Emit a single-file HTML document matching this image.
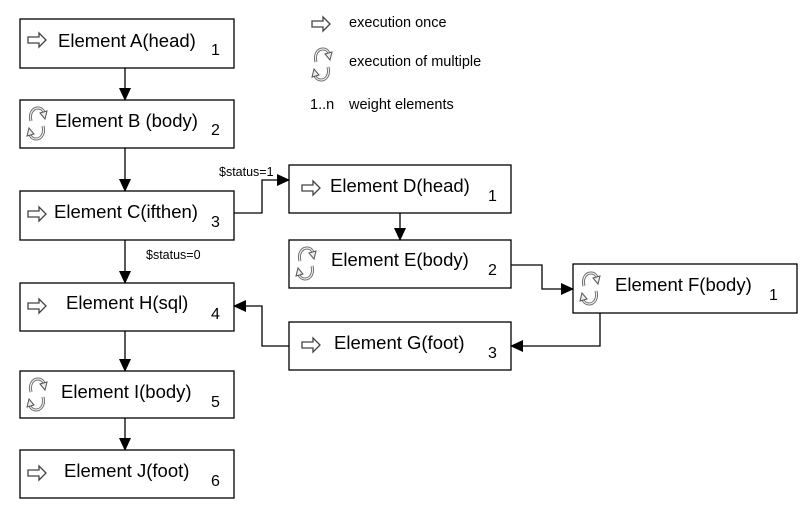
<!DOCTYPE html>
<html><head><meta charset="utf-8"><style>body{margin:0;background:#fff}svg{display:block}text{font-family:"Liberation Sans",sans-serif;fill:#000}</style></head><body>
<svg width="809" height="516" viewBox="0 0 809 516" xmlns="http://www.w3.org/2000/svg">
<defs>
<marker id="ah" markerWidth="13" markerHeight="12" refX="12" refY="6" orient="auto" markerUnits="userSpaceOnUse"><path d="M0,0 L13,6 L0,12 z" fill="#000"/></marker>
<g id="once"><path d="M0,4 h11 v-4 l7,7 l-7,7 v-4 h-11 z" fill="#fff" stroke="#444" stroke-width="1.3"/></g>
<g id="multi">
<path d="M3,14 C1,6 5,1 10,1 C13,1 15,3 16,5" fill="none" stroke="#666" stroke-width="3"/>
<path d="M3,14 C1,6 5,1 10,1 C13,1 15,3 16,5" fill="none" stroke="#eee" stroke-width="1.2"/>
<path d="M12,6 L19,4 L17,12 z" fill="#eee" stroke="#555" stroke-width="1"/>
<path d="M15,19 C17,27 13,32 8,32 C5,32 3,30 2,28" fill="none" stroke="#666" stroke-width="3"/>
<path d="M15,19 C17,27 13,32 8,32 C5,32 3,30 2,28" fill="none" stroke="#eee" stroke-width="1.2"/>
<path d="M6,27 L-1,29 L1,21 z" fill="#eee" stroke="#555" stroke-width="1"/>
</g>
</defs>
<g fill="#fff" stroke="#000" stroke-width="1.3">
<rect x="20" y="19" width="214" height="49"/>
<rect x="20" y="100" width="214" height="48"/>
<rect x="20" y="191" width="214" height="49"/>
<rect x="20" y="283" width="214" height="48"/>
<rect x="20" y="371" width="214" height="47"/>
<rect x="20" y="450" width="214" height="48"/>
<rect x="289" y="165" width="222" height="48"/>
<rect x="289" y="240" width="222" height="48"/>
<rect x="289" y="322" width="222" height="48"/>
<rect x="573" y="264" width="224" height="49"/>
</g>
<g fill="none" stroke="#000" stroke-width="1.3" marker-end="url(#ah)">
<line x1="125" y1="68" x2="125" y2="100"/>
<line x1="125" y1="148" x2="125" y2="191"/>
<line x1="125" y1="240" x2="125" y2="283"/>
<line x1="125" y1="331" x2="125" y2="371"/>
<line x1="125" y1="418" x2="125" y2="450"/>
<line x1="400" y1="213" x2="400" y2="240"/>
<polyline points="234,213 262,213 262,180 289,180"/>
<polyline points="511,265 542,265 542,289 573,289"/>
<polyline points="600,313 600,346 511,346"/>
<polyline points="289,346 262,346 262,306 234,306"/>
</g>
<use href="#once" x="28" y="33"/>
<use href="#multi" x="28" y="107"/>
<use href="#once" x="28" y="207"/>
<use href="#once" x="28" y="299"/>
<use href="#multi" x="28" y="378"/>
<use href="#once" x="28" y="466"/>
<use href="#once" x="302" y="181"/>
<use href="#multi" x="297" y="247"/>
<use href="#once" x="302" y="338"/>
<use href="#multi" x="581" y="272"/>
<use href="#once" x="312" y="17"/>
<use href="#multi" x="313" y="48"/>
<g font-size="18.5">
<text x="58" y="47">Element A(head)</text>
<text x="55" y="127">Element B (body)</text>
<text x="54" y="218">Element C(ifthen)</text>
<text x="66" y="309">Element H(sql)</text>
<text x="61" y="398">Element I(body)</text>
<text x="64" y="477">Element J(foot)</text>
<text x="330" y="192">Element D(head)</text>
<text x="331" y="266">Element E(body)</text>
<text x="334" y="349">Element G(foot)</text>
<text x="615" y="291">Element F(body)</text>
</g>
<g font-size="16">
<text x="211" y="55" fill="#800">1</text>
<text x="211" y="135">2</text>
<text x="211" y="227">3</text>
<text x="211" y="319">4</text>
<text x="211" y="407">5</text>
<text x="211" y="486">6</text>
<text x="488" y="201">1</text>
<text x="488" y="275">2</text>
<text x="488" y="358">3</text>
<text x="769" y="300" fill="#800">1</text>
</g>
<g font-size="12.5">
<text x="219" y="176">$status=1</text>
<text x="146" y="259">$status=0</text>
</g>
<g font-size="14.5">
<text x="349" y="27">execution once</text>
<text x="349" y="66">execution of multiple</text>
<text x="310" y="109">1..n</text>
<text x="349" y="109">weight elements</text>
</g>
</svg>
</body></html>
